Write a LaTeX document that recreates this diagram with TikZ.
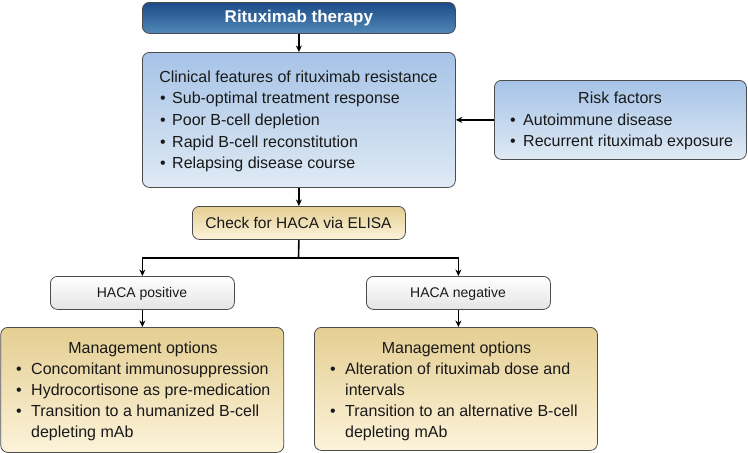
\documentclass[tikz,border=0pt]{standalone}
\usepackage{fontspec}
\setmainfont{Liberation Sans}
\usetikzlibrary{arrows.meta}
\begin{document}
\begin{tikzpicture}[x=1pt,y=-1pt,
  box/.style={draw=black!70, line width=0.8pt, rounded corners=7pt, inner sep=0pt, anchor=north west},
  bluedark/.style={top color=blue1, bottom color=blue2},
  bluelight/.style={top color=lb1, bottom color=lb2},
  tan/.style={top color=tan1, bottom color=tan2},
  greybox/.style={top color=white, bottom color=gr2},
  txt/.style={inner sep=0pt, font=\fontsize{16}{19}\selectfont, text=black!90},
  lt/.style={txt, anchor=base west},
  ct/.style={txt, anchor=base},
  arr/.style={-{Stealth[length=6.5pt,width=6pt]}, line width=1.6pt, black},
  ln/.style={line width=1.6pt, black}]
\definecolor{blue1}{HTML}{1C4C88}
\definecolor{blue2}{HTML}{5288B8}
\definecolor{lb1}{HTML}{A6C3E7}
\definecolor{lb2}{HTML}{DFEAF4}
\definecolor{tan1}{HTML}{E4CE92}
\definecolor{tan2}{HTML}{FCF3DA}
\definecolor{gr2}{HTML}{E4E4E4}
\useasboundingbox (0,0) rectangle (748,453);

% boxes
\node[box, bluedark, minimum width=313pt, minimum height=31pt] (title) at (142,2) {};
\node[box, bluelight, minimum width=313pt, minimum height=135pt] (clin) at (142,52) {};
\node[box, bluelight, minimum width=252pt, minimum height=79pt] (risk) at (494,80) {};
\node[box, tan, minimum width=213pt, minimum height=33pt] (check) at (192,206) {};
\node[box, greybox, minimum width=184pt, minimum height=33pt] (hpos) at (50,276) {};
\node[box, greybox, minimum width=184pt, minimum height=33pt] (hneg) at (366,276) {};
\node[box, tan, minimum width=283pt, minimum height=125pt] (mgl) at (0.4,327) {};
\node[box, tan, minimum width=283pt, minimum height=123pt] (mgr) at (314,327) {};

% texts
\node[inner sep=0pt, text=white, font=\fontsize{17}{20}\selectfont\bfseries] (ttitle) at (title.center) {Rituximab therapy};

\node[ct] (c0) at (298.5,82) {Clinical features of rituximab resistance};
\node[lt] (c1b) at (160,103) {•};
\node[lt] (c1) at (172,103) {Sub-optimal treatment response};
\node[lt] (c2b) at (160,125) {•};
\node[lt] (c2) at (172,125) {Poor B-cell depletion};
\node[lt] (c3b) at (160,147) {•};
\node[lt] (c3) at (172,147) {Rapid B-cell reconstitution};
\node[lt] (c4b) at (160,168) {•};
\node[lt] (c4) at (172,168) {Relapsing disease course};

\node[ct] (r0) at (620,103) {Risk factors};
\node[lt] (r1b) at (510,125) {•};
\node[lt] (r1) at (523,125) {Autoimmune disease};
\node[lt] (r2b) at (510,146) {•};
\node[lt] (r2) at (523,146) {Recurrent rituximab exposure};

\node[ct, font=\fontsize{15.5}{18}\selectfont] (tcheck) at (298.5,228) {Check for HACA via ELISA};
\node[ct, font=\fontsize{14}{16}\selectfont] (tpos) at (142,297) {HACA positive};
\node[ct, font=\fontsize{14}{16}\selectfont] (tneg) at (458,297) {HACA negative};

\node[ct] (l0) at (143,353) {Management options};
\node[lt] (l1b) at (16,374) {•};
\node[lt] (l1) at (31,374) {Concomitant immunosuppression};
\node[lt] (l2b) at (16,395) {•};
\node[lt] (l2) at (31,395) {Hydrocortisone as pre-medication};
\node[lt] (l3b) at (16,416) {•};
\node[lt] (l3) at (31,416) {Transition to a humanized B-cell};
\node[lt] (l4) at (31,437) {depleting mAb};

\node[ct] (m0) at (456.5,353) {Management options};
\node[lt] (m1b) at (330,374) {•};
\node[lt] (m1) at (345,374) {Alteration of rituximab dose and};
\node[lt] (m2) at (345,395) {intervals};
\node[lt] (m3b) at (330,416) {•};
\node[lt] (m3) at (345,416) {Transition to an alternative B-cell};
\node[lt] (m4) at (345,437) {depleting mAb};

% connectors
\draw[arr] (title.south) -- (clin.north);
\draw[arr] (risk.west) -- (clin.east |- risk.west);
\draw[arr] (clin.south) -- (clin.south |- check.north);
\coordinate (split) at (298.5,258);
\draw[ln] (check.south) -- (split);
\draw[arr] (split) -| (hpos.north);
\draw[arr] (split) -| (hneg.north);
\draw[arr] (hpos.south) -- (hpos.south |- mgl.north);
\draw[arr] (hneg.south) -- (hneg.south |- mgr.north);
\end{tikzpicture}
\end{document}
